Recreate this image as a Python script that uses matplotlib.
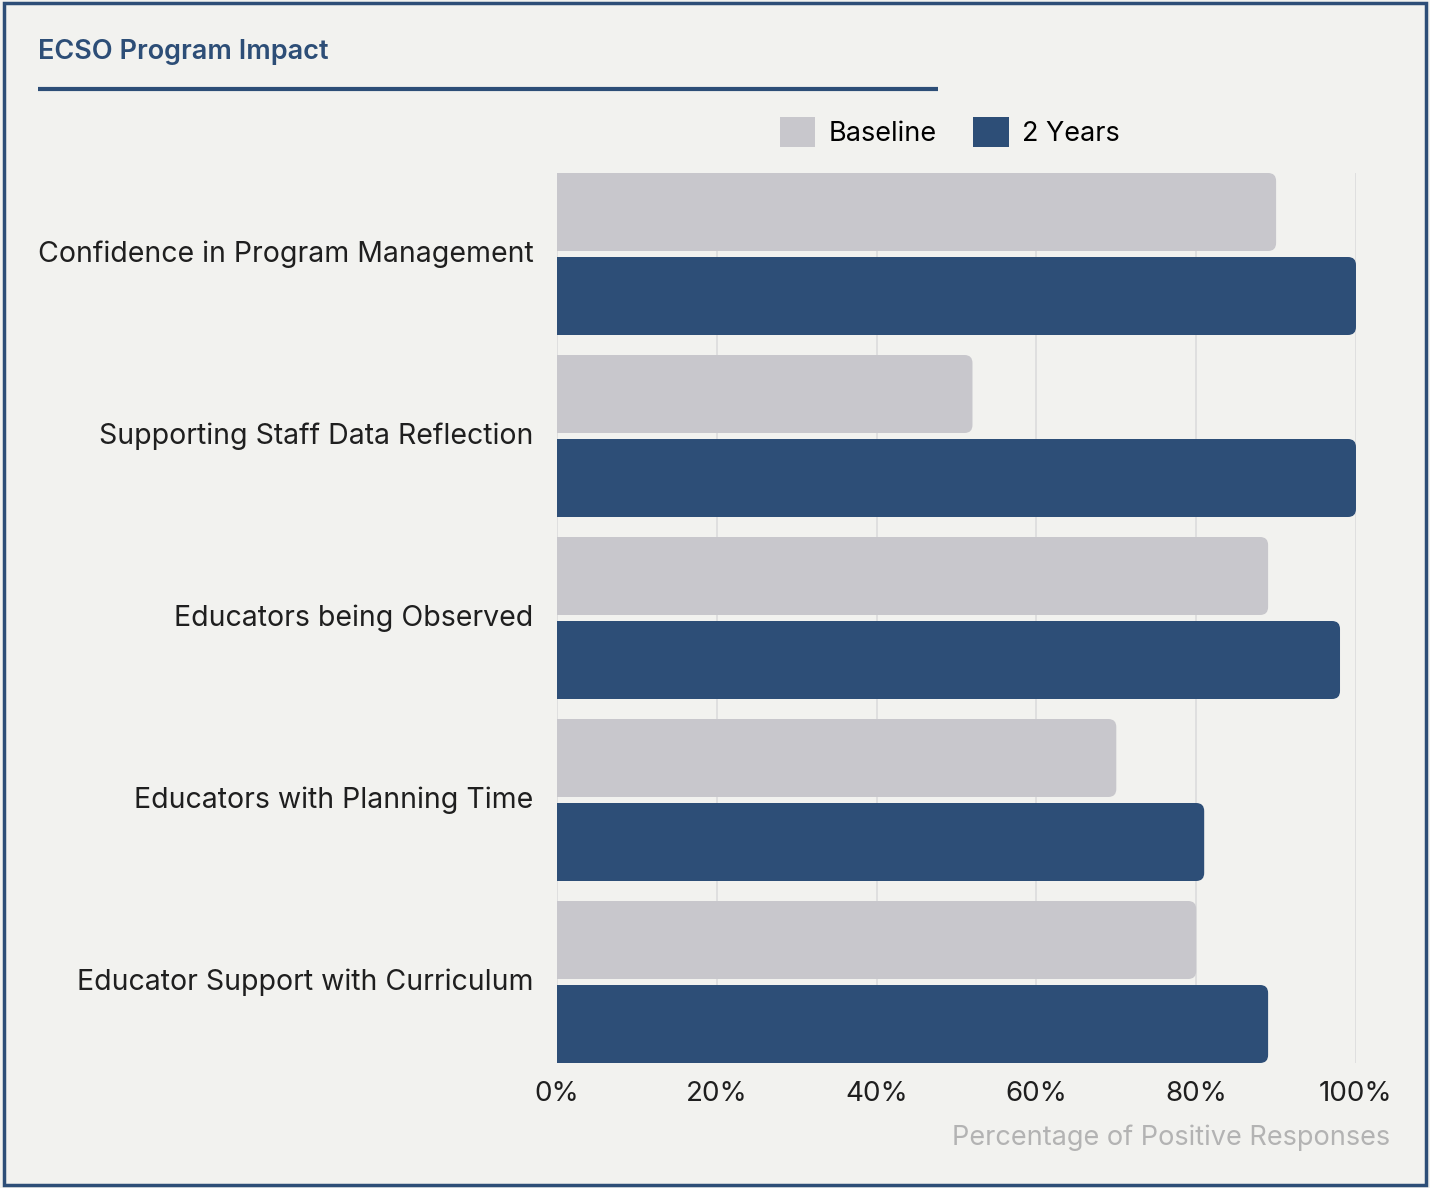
import numpy as np
import matplotlib.pyplot as plt
from matplotlib.patches import FancyBboxPatch, Rectangle, Patch
from matplotlib.lines import Line2D

categories = [
    "Confidence in Program Management",
    "Supporting Staff Data Reflection",
    "Educators being Observed",
    "Educators with Planning Time",
    "Educator Support with Curriculum",
]
baseline = [90, 52, 89, 70, 80]
two_years = [100, 100, 98, 81, 89]
series_names = ["Baseline", "2 Years"]
xticks = [0, 20, 40, 60, 80, 100]

BG = "#f2f2ef"
NAVY = "#2d4e77"
GREY = "#c8c7cc"
TEXT = "#1f1f1f"

plt.rcParams['font.family'] = ['Inter', 'DejaVu Sans']

fig = plt.figure(figsize=(14.3, 11.88), dpi=100, facecolor=BG)
ax = fig.add_axes([557/1430, 1 - 1063/1188, 799/1430, 890/1188])
ax.set_facecolor(BG)

y = np.arange(len(categories))
h = 78 / 182
off = (78 + 6) / 2 / 182

# draw bars, then swap for rounded ones
bars_b = ax.barh(y - off, baseline, height=h, color=GREY)
bars_t = ax.barh(y + off, two_years, height=h, color=NAVY)

# rounding: ~8px in both directions
xr = 1.0           # x units (1% ~ 8 px)
asp = (8 / 182) / xr
for bars, col in [(bars_b, GREY), (bars_t, NAVY)]:
    for p in bars:
        x0, y0 = p.get_x(), p.get_y()
        w, hh = p.get_width(), p.get_height()
        p.remove()
        rb = FancyBboxPatch((x0 - 5, y0), w + 5, hh,
                            boxstyle=f"round,pad=0,rounding_size={xr}",
                            mutation_aspect=asp, facecolor=col,
                            edgecolor='none', zorder=3)
        ax.add_patch(rb)

ax.set_xlim(0, 100)
ax.set_ylim(len(categories) - 1 + 81/182, -81/182)
ax.set_xticks(xticks)
ax.set_xticklabels([f"{t}%" for t in xticks], fontsize=20, color=TEXT)
ax.set_yticks(y - 0.015)
ax.set_yticklabels(categories, fontsize=20.5, color=TEXT)
ax.tick_params(axis='both', length=0)
ax.tick_params(axis='x', pad=13)
ax.tick_params(axis='y', pad=17)
ax.xaxis.grid(True, color="#dcdcdc", lw=1.2, zorder=0)
ax.set_axisbelow(True)
for s in ax.spines.values():
    s.set_visible(False)

fig.text(1390/1430, 1 - 1138/1188, "Percentage of Positive Responses",
         ha='right', va='center', fontsize=19.5, color="#b3b3b3")

# title + underline
fig.text(38/1430, 1 - 52/1188, "ECSO Program Impact", ha='left', va='center',
         fontsize=19.5, fontweight='semibold', color=NAVY)
fig.add_artist(Line2D([38/1430, 938/1430], [1 - 89/1188, 1 - 89/1188],
                      color=NAVY, lw=3, solid_capstyle='butt',
                      transform=fig.transFigure))

# legend
handles = [Patch(facecolor=GREY, label=series_names[0]),
           Patch(facecolor=NAVY, label=series_names[1])]
fig.legend(handles=handles, loc='center left',
           bbox_to_anchor=(780/1430, 1 - 132/1188), ncol=2, frameon=False,
           fontsize=19.5, handlelength=1.3, handleheight=1.3,
           handletextpad=0.5, columnspacing=1.35, borderpad=0, borderaxespad=0)

# outer frame
fig.add_artist(Rectangle((4/1430, 3/1188), 1422/1430, 1182/1188,
                         transform=fig.transFigure, fill=False,
                         edgecolor=NAVY, lw=2.5))

fig.savefig("out.png", dpi=100, facecolor=BG)
